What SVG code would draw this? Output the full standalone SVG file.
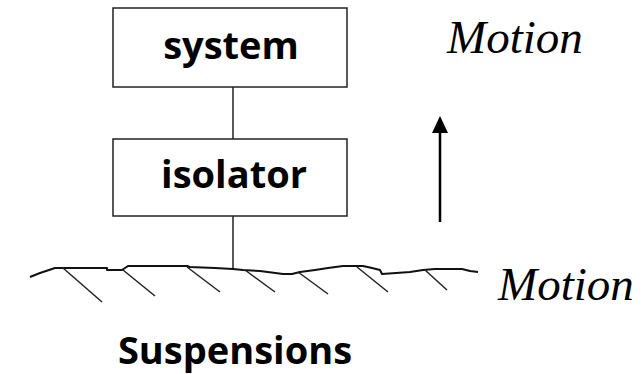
<svg xmlns="http://www.w3.org/2000/svg" width="642" height="374" viewBox="0 0 642 374">
<style>
.box{fill:#fff;stroke:#222;stroke-width:1.5}
.lbl{font-family:"Open Sans","DejaVu Sans",sans-serif;font-weight:bold;font-size:38px;fill:#000;text-anchor:middle}
.mot{font-family:"Liberation Serif","Times New Roman",serif;font-style:italic;font-size:47px;fill:#000}
.ln{stroke:#222;stroke-width:1.5;fill:none}
.gr{stroke:#111;stroke-width:2;fill:none;stroke-linejoin:round}
</style>
<rect width="642" height="374" fill="#fff"/>
<g id="connectors">
<line class="ln" x1="233" y1="87" x2="233" y2="139"/>
<line class="ln" x1="233" y1="216" x2="233" y2="269"/>
<line x1="440" y1="222" x2="440" y2="130" stroke="#000" stroke-width="2.5"/>
<polygon points="440,116 432,133 448,133" fill="#000"/>
</g>
<g id="system">
<rect class="box" x="113" y="8" width="234" height="79"/>
<text class="lbl" x="231" y="59">system</text>
</g>
<g id="isolator">
<rect class="box" x="113" y="139" width="234" height="77"/>
<text class="lbl" x="234" y="188">isolator</text>
</g>
<g id="ground">
<polyline class="gr" points="30,277 40,273 55,268 107,268 107,270 122,270 128,266 187,266 190,267 215,268 233,269 243,270 260,271 283,274 292,274 300,272 315,270 328,268 343,266 363,266 372,268 380,270 382,274 410,272 423,270 435,269 462,269 470,271 478,272"/>
<g class="ln">
<line x1="63" y1="268" x2="102" y2="302"/>
<line x1="123" y1="270" x2="155" y2="296"/>
<line x1="187" y1="267" x2="220" y2="292"/>
<line x1="245" y1="270" x2="275" y2="292"/>
<line x1="298" y1="272" x2="328" y2="294"/>
<line x1="357" y1="267" x2="388" y2="292"/>
<line x1="425" y1="270" x2="447" y2="290"/>
</g>
</g>
<text class="mot" x="447" y="53">Motion</text>
<text class="mot" x="498" y="300">Motion</text>
<text class="lbl" x="235" y="364">Suspensions</text>
</svg>
